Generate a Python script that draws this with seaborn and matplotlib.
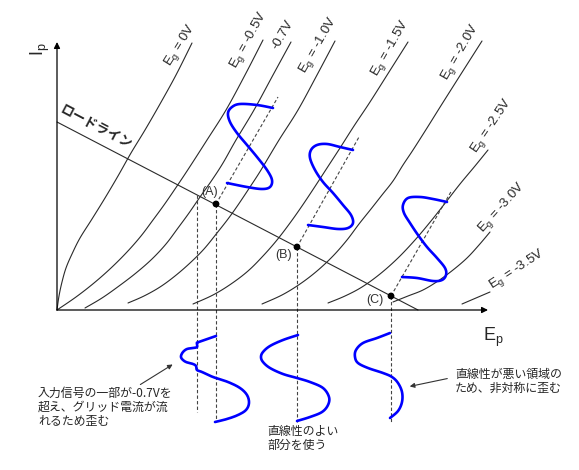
import matplotlib
matplotlib.use("Agg")
import matplotlib.pyplot as plt
import numpy as np
import pandas as pd
import seaborn as sns

# --- plate characteristics (Ep, Ip), origin at the axis corner ---
curve_0v = [(0, 0), (2, 14), (5, 28), (9, 42), (15, 56), (23, 72), (35, 91), (48, 112),
            (61, 134), (74, 157), (88, 180), (103, 206), (119, 235), (135, 267)]
curve_05v = [(0, 0), (19, 13), (37, 27), (54, 42), (70, 58), (84, 74), (96, 90), (107, 105),
             (118, 121), (132, 142), (150, 170), (169, 200), (188, 235), (206, 270)]
curve_07v = [(28, 2), (45, 12), (62, 24), (79, 37), (95, 51), (109, 66), (121, 82), (132, 97),
             (143, 113), (155, 130), (166, 147), (179, 170), (197, 200), (216, 235), (234, 268)]
curve_10v = [(71, 7), (87, 14), (103, 23), (118, 34), (133, 47), (147, 61), (160, 77), (171, 91),
             (181, 105), (193, 123), (204, 140), (222, 170), (241, 200), (260, 235), (278, 269)]
curve_15v = [(136, 6), (156, 15), (174, 26), (191, 39), (206, 54), (220, 70), (233, 87), (245, 104),
             (257, 122), (270, 142), (283, 162), (297, 184), (313, 208), (332, 238), (351, 268)]
curve_20v = [(205, 6), (225, 15), (243, 26), (260, 39), (276, 54), (290, 70), (302, 86), (314, 101),
             (325, 115), (336, 129), (346, 145), (356, 160), (370, 182), (385, 206), (404, 236), (425, 269)]
curve_25v = [(271, 7), (288, 14), (305, 23), (323, 36), (341, 52), (358, 70), (374, 89), (389, 108),
             (403, 126), (418, 144), (431, 160)]
curve_30v = [(336, 8), (351, 14), (366, 20), (381, 29), (396, 40), (410, 52), (422, 65), (433, 78)]
curve_35v = [(405, 6), (419, 12), (433, 18)]
grid_curves = [curve_0v, curve_05v, curve_07v, curve_10v, curve_15v,
               curve_20v, curve_25v, curve_30v, curve_35v]
grid_labels = [r"E$_\mathregular{g}$ = 0V", r"E$_\mathregular{g}$ = -0.5V", "-0.7V",
               r"E$_\mathregular{g}$ = -1.0V", r"E$_\mathregular{g}$ = -1.5V",
               r"E$_\mathregular{g}$ = -2.0V", r"E$_\mathregular{g}$ = -2.5V",
               r"E$_\mathregular{g}$ = -3.0V", r"E$_\mathregular{g}$ = -3.5V"]

# load line and operating points
load_line = [(0, 188), (361, 0)]
op_names = ["(A)", "(B)", "(C)"]
op_ep = [159, 240, 334]
op_ip = [106, 63, 14]
clip_ep = 140          # where the load line meets the -0.7V curve
axis_top = [(221, 213), (302, 173), (395, 120)]  # end of the tilted time axes

# output (plate) waveforms along the tilted axes
out_a = [(216, 202), (200, 205), (183, 206), (175, 203), (171, 197), (173, 188), (180, 177),
         (190, 165), (200, 153), (210, 140), (215, 130), (213, 123), (205, 121), (190, 123), (170, 127)]
out_b = [(296, 160), (283, 163), (270, 166), (260, 165), (254, 160), (253, 152), (258, 140),
         (266, 128), (276, 117), (286, 105), (294, 95), (296, 87), (291, 82), (281, 81), (266, 83), (251, 85)]
out_c = [(390, 108), (376, 111), (363, 113), (351, 112), (346, 105), (347, 97), (353, 87),
         (361, 75), (370, 63), (380, 52), (388, 42), (389, 35), (385, 30), (376, 29), (360, 32), (345, 33)]

# input (grid) waveforms below the Ep axis
in_a = [(159, -26), (142, -32), (140, -33), (140, -37), (136, -38), (130, -39), (126, -42),
        (124, -46), (125, -49), (129, -52), (136, -54), (139, -56), (140, -60), (145, -62),
        (156, -67), (171, -72), (183, -78), (190, -85), (192, -93), (189, -100), (181, -105),
        (170, -109), (158, -112)]
in_b = [(241, -25), (226, -30), (213, -36), (206, -42), (204, -47), (206, -52), (213, -58),
        (226, -64), (240, -68), (253, -72), (266, -78), (272, -87), (271, -95), (265, -102),
        (253, -107), (240, -111)]
in_c = [(333, -23), (320, -28), (306, -33), (299, -40), (298, -47), (301, -53), (311, -58),
        (326, -63), (335, -67), (341, -73), (345, -82), (345, -92), (341, -101), (333, -108)]

sns.set_theme(style="white")
plt.rcParams["font.family"] = ["Liberation Sans", "Noto Sans CJK JP", "DejaVu Sans"]
JP = ["Noto Sans CJK JP", "DejaVu Sans"]


def smooth(pts, steps=8):
    # Catmull-Rom through the read points, only so the pen stroke looks round
    p = np.asarray(pts, dtype=float)
    if len(p) < 3:
        return p
    p = np.vstack([p[0], p, p[-1]])
    out = []
    for i in range(1, len(p) - 2):
        p0, p1, p2, p3 = p[i - 1], p[i], p[i + 1], p[i + 2]
        for t in np.linspace(0, 1, steps, endpoint=False):
            t2, t3 = t * t, t * t * t
            out.append(0.5 * (2 * p1 + (-p0 + p2) * t + (2 * p0 - 5 * p1 + 4 * p2 - p3) * t2
                              + (-p0 + 3 * p1 - 3 * p2 + p3) * t3))
    out.append(p[-2])
    return np.array(out)


def draw(ax, pts, **kw):
    df = pd.DataFrame(smooth(pts), columns=["ep", "ip"])
    sns.lineplot(data=df, x="ep", y="ip", sort=False, estimator=None, ax=ax, **kw)


fig = plt.figure(figsize=(5.79, 4.70), dpi=100)
ax = fig.add_axes([0, 0, 1, 1])
ax.set_xlim(-57, 522)
ax.set_ylim(-160, 310)
ax.axis("off")

# axes with arrows
arrow = dict(arrowstyle="-|>", color="black", lw=0.9, mutation_scale=9, shrinkA=0, shrinkB=0)
ax.annotate("", xy=(0, 268), xytext=(0, 0), arrowprops=arrow)
ax.annotate("", xy=(431, 0), xytext=(0, 0), arrowprops=arrow)
ax.text(-17, 261, r"I$_\mathregular{p}$", rotation=90, fontsize=13, ha="center", va="center")
ax.text(436, -27, r"E$_\mathregular{p}$", fontsize=13, ha="center", va="center")

# characteristic curves
for pts in grid_curves:
    draw(ax, pts, color="#2a2a2a", linewidth=0.8)

label_pos = [(123, 265, 58), (192, 270, 61), (226, 275, 60), (261, 265, 60), (333, 262, 60),
             (403, 258, 60), (435, 184, 56), (445, 102, 48), (460, 40, 33)]
for text, (x, y, rot) in zip(grid_labels, label_pos):
    ax.text(x, y, text, rotation=rot, fontsize=9.5, ha="center", va="center",
            rotation_mode="anchor")

# load line
draw(ax, load_line, color="#2a2a2a", linewidth=0.8)
ax.text(39, 183, "ロードライン", rotation=-27.6, fontsize=9.5, fontweight="bold",
        family=JP, ha="center", va="center", rotation_mode="anchor")

# dashed projections
dash = dict(color="#444444", linewidth=0.8, linestyle=(0, (3, 2)))
clip_ip = 188 - 188 / 361 * clip_ep
draw(ax, [(clip_ep, clip_ip), (clip_ep, -102)], **dash)
for ep, ip, top in zip(op_ep, op_ip, axis_top):
    draw(ax, [(ep, ip), (ep, -112)], **dash)
    draw(ax, [(ep, ip), top], **dash)

# blue waveforms
for pts in [out_a, out_b, out_c, in_a, in_b, in_c]:
    draw(ax, pts, color="#0000ff", linewidth=1.9)

sns.scatterplot(x=op_ep, y=op_ip, color="black", s=24, edgecolor="none", ax=ax, zorder=5)
label_off = [(-6, 12), (-13, -8), (-16, -4)]
for name, ep, ip, (dx, dy) in zip(op_names, op_ep, op_ip, label_off):
    ax.text(ep + dx, ip + dy, name, fontsize=9, color="#333333", ha="center", va="center")

# notes
ax.text(-19, -77, "入力信号の一部が-0.7Vを\n超え、グリッド電流が流\nれるため歪む", family=JP,
        fontsize=8.6, ha="left", va="top", linespacing=1.1)
ax.annotate("", xy=(118, -53), xytext=(81, -76),
            arrowprops=dict(arrowstyle="-|>", color="#333333", lw=0.8, mutation_scale=7))
ax.text(210, -115, "直線性のよい\n部分を使う", family=JP, fontsize=8.6, ha="left", va="top",
        linespacing=1.1)
ax.text(398, -58, "直線性が悪い領域の\nため、非対称に歪む", family=JP, fontsize=8.6,
        ha="left", va="top", linespacing=1.1)
ax.annotate("", xy=(350, -77), xytext=(393, -68),
            arrowprops=dict(arrowstyle="-|>", color="#333333", lw=0.8, mutation_scale=7))

fig.savefig("out.png", dpi=100)
